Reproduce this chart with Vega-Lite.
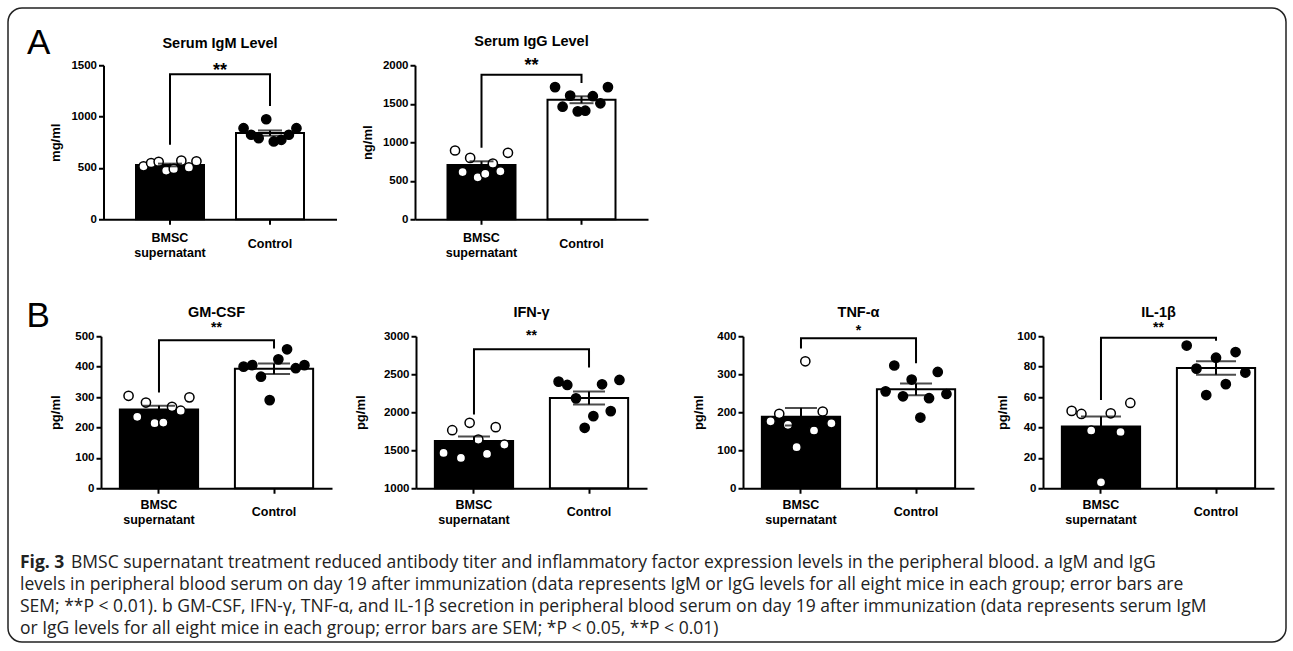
{
  "$schema": "https://vega.github.io/schema/vega-lite/v6.json",
  "padding": {"left": 7, "top": 7, "right": 7, "bottom": 8},
  "background": "white",
  "columns": 1,
  "align": "none",
  "spacing": -617.75,
  "datasets": {
    "pts": [
      {"assay": "IgM", "group": "BMSC supernatant", "mouse": 1, "value": 516},
      {"assay": "IgM", "group": "BMSC supernatant", "mouse": 2, "value": 548},
      {"assay": "IgM", "group": "BMSC supernatant", "mouse": 3, "value": 560},
      {"assay": "IgM", "group": "BMSC supernatant", "mouse": 4, "value": 474},
      {"assay": "IgM", "group": "BMSC supernatant", "mouse": 5, "value": 490},
      {"assay": "IgM", "group": "BMSC supernatant", "mouse": 6, "value": 571},
      {"assay": "IgM", "group": "BMSC supernatant", "mouse": 7, "value": 505},
      {"assay": "IgM", "group": "BMSC supernatant", "mouse": 8, "value": 565},
      {"assay": "IgM", "group": "Control", "mouse": 1, "value": 887},
      {"assay": "IgM", "group": "Control", "mouse": 2, "value": 823},
      {"assay": "IgM", "group": "Control", "mouse": 3, "value": 790},
      {"assay": "IgM", "group": "Control", "mouse": 4, "value": 974},
      {"assay": "IgM", "group": "Control", "mouse": 5, "value": 758},
      {"assay": "IgM", "group": "Control", "mouse": 6, "value": 774},
      {"assay": "IgM", "group": "Control", "mouse": 7, "value": 823},
      {"assay": "IgM", "group": "Control", "mouse": 8, "value": 887},
      {"assay": "IgG", "group": "BMSC supernatant", "mouse": 1, "value": 893},
      {"assay": "IgG", "group": "BMSC supernatant", "mouse": 2, "value": 613},
      {"assay": "IgG", "group": "BMSC supernatant", "mouse": 3, "value": 797},
      {"assay": "IgG", "group": "BMSC supernatant", "mouse": 4, "value": 545},
      {"assay": "IgG", "group": "BMSC supernatant", "mouse": 5, "value": 590},
      {"assay": "IgG", "group": "BMSC supernatant", "mouse": 6, "value": 723},
      {"assay": "IgG", "group": "BMSC supernatant", "mouse": 7, "value": 622},
      {"assay": "IgG", "group": "BMSC supernatant", "mouse": 8, "value": 863},
      {"assay": "IgG", "group": "Control", "mouse": 1, "value": 1716},
      {"assay": "IgG", "group": "Control", "mouse": 2, "value": 1462},
      {"assay": "IgG", "group": "Control", "mouse": 3, "value": 1606},
      {"assay": "IgG", "group": "Control", "mouse": 4, "value": 1401},
      {"assay": "IgG", "group": "Control", "mouse": 5, "value": 1410},
      {"assay": "IgG", "group": "Control", "mouse": 6, "value": 1598},
      {"assay": "IgG", "group": "Control", "mouse": 7, "value": 1506},
      {"assay": "IgG", "group": "Control", "mouse": 8, "value": 1716},
      {"assay": "GM-CSF", "group": "BMSC supernatant", "mouse": 1, "value": 304},
      {"assay": "GM-CSF", "group": "BMSC supernatant", "mouse": 2, "value": 235},
      {"assay": "GM-CSF", "group": "BMSC supernatant", "mouse": 3, "value": 282},
      {"assay": "GM-CSF", "group": "BMSC supernatant", "mouse": 4, "value": 214},
      {"assay": "GM-CSF", "group": "BMSC supernatant", "mouse": 5, "value": 216},
      {"assay": "GM-CSF", "group": "BMSC supernatant", "mouse": 6, "value": 268},
      {"assay": "GM-CSF", "group": "BMSC supernatant", "mouse": 7, "value": 255},
      {"assay": "GM-CSF", "group": "BMSC supernatant", "mouse": 8, "value": 299},
      {"assay": "GM-CSF", "group": "Control", "mouse": 1, "value": 400},
      {"assay": "GM-CSF", "group": "Control", "mouse": 2, "value": 405},
      {"assay": "GM-CSF", "group": "Control", "mouse": 3, "value": 367},
      {"assay": "GM-CSF", "group": "Control", "mouse": 4, "value": 290},
      {"assay": "GM-CSF", "group": "Control", "mouse": 5, "value": 424},
      {"assay": "GM-CSF", "group": "Control", "mouse": 6, "value": 457},
      {"assay": "GM-CSF", "group": "Control", "mouse": 7, "value": 395},
      {"assay": "GM-CSF", "group": "Control", "mouse": 8, "value": 405},
      {"assay": "IFN-γ", "group": "BMSC supernatant", "mouse": 1, "value": 1465},
      {"assay": "IFN-γ", "group": "BMSC supernatant", "mouse": 2, "value": 1764},
      {"assay": "IFN-γ", "group": "BMSC supernatant", "mouse": 3, "value": 1399},
      {"assay": "IFN-γ", "group": "BMSC supernatant", "mouse": 4, "value": 1861},
      {"assay": "IFN-γ", "group": "BMSC supernatant", "mouse": 5, "value": 1641},
      {"assay": "IFN-γ", "group": "BMSC supernatant", "mouse": 6, "value": 1452},
      {"assay": "IFN-γ", "group": "BMSC supernatant", "mouse": 7, "value": 1804},
      {"assay": "IFN-γ", "group": "BMSC supernatant", "mouse": 8, "value": 1575},
      {"assay": "IFN-γ", "group": "Control", "mouse": 1, "value": 2403},
      {"assay": "IFN-γ", "group": "Control", "mouse": 2, "value": 2359},
      {"assay": "IFN-γ", "group": "Control", "mouse": 3, "value": 2183},
      {"assay": "IFN-γ", "group": "Control", "mouse": 4, "value": 1795},
      {"assay": "IFN-γ", "group": "Control", "mouse": 5, "value": 1949},
      {"assay": "IFN-γ", "group": "Control", "mouse": 6, "value": 2368},
      {"assay": "IFN-γ", "group": "Control", "mouse": 7, "value": 2015},
      {"assay": "IFN-γ", "group": "Control", "mouse": 8, "value": 2425},
      {"assay": "TNF-α", "group": "BMSC supernatant", "mouse": 1, "value": 176},
      {"assay": "TNF-α", "group": "BMSC supernatant", "mouse": 2, "value": 196},
      {"assay": "TNF-α", "group": "BMSC supernatant", "mouse": 3, "value": 167},
      {"assay": "TNF-α", "group": "BMSC supernatant", "mouse": 4, "value": 108},
      {"assay": "TNF-α", "group": "BMSC supernatant", "mouse": 5, "value": 334},
      {"assay": "TNF-α", "group": "BMSC supernatant", "mouse": 6, "value": 152},
      {"assay": "TNF-α", "group": "BMSC supernatant", "mouse": 7, "value": 202},
      {"assay": "TNF-α", "group": "BMSC supernatant", "mouse": 8, "value": 171},
      {"assay": "TNF-α", "group": "Control", "mouse": 1, "value": 255},
      {"assay": "TNF-α", "group": "Control", "mouse": 2, "value": 323},
      {"assay": "TNF-α", "group": "Control", "mouse": 3, "value": 242},
      {"assay": "TNF-α", "group": "Control", "mouse": 4, "value": 286},
      {"assay": "TNF-α", "group": "Control", "mouse": 5, "value": 186},
      {"assay": "TNF-α", "group": "Control", "mouse": 6, "value": 237},
      {"assay": "TNF-α", "group": "Control", "mouse": 7, "value": 306},
      {"assay": "TNF-α", "group": "Control", "mouse": 8, "value": 248},
      {"assay": "IL-1β", "group": "BMSC supernatant", "mouse": 1, "value": 50.9},
      {"assay": "IL-1β", "group": "BMSC supernatant", "mouse": 2, "value": 48.9},
      {"assay": "IL-1β", "group": "BMSC supernatant", "mouse": 3, "value": 38},
      {"assay": "IL-1β", "group": "BMSC supernatant", "mouse": 4, "value": 3.9},
      {"assay": "IL-1β", "group": "BMSC supernatant", "mouse": 5, "value": 49.3},
      {"assay": "IL-1β", "group": "BMSC supernatant", "mouse": 6, "value": 37},
      {"assay": "IL-1β", "group": "BMSC supernatant", "mouse": 7, "value": 56.1},
      {"assay": "IL-1β", "group": "Control", "mouse": 1, "value": 93.9},
      {"assay": "IL-1β", "group": "Control", "mouse": 2, "value": 78.7},
      {"assay": "IL-1β", "group": "Control", "mouse": 3, "value": 61.3},
      {"assay": "IL-1β", "group": "Control", "mouse": 4, "value": 85.9},
      {"assay": "IL-1β", "group": "Control", "mouse": 5, "value": 68.5},
      {"assay": "IL-1β", "group": "Control", "mouse": 6, "value": 89.6},
      {"assay": "IL-1β", "group": "Control", "mouse": 7, "value": 76.1}
    ],
    "brk": [
      {"assay": "IgM", "group": "BMSC supernatant", "k": 1, "value": 726},
      {"assay": "IgM", "group": "BMSC supernatant", "k": 2, "value": 1413},
      {"assay": "IgM", "group": "Control", "k": 3, "value": 1413},
      {"assay": "IgM", "group": "Control", "k": 4, "value": 1103},
      {"assay": "IgG", "group": "BMSC supernatant", "k": 1, "value": 928},
      {"assay": "IgG", "group": "BMSC supernatant", "k": 2, "value": 1878},
      {"assay": "IgG", "group": "Control", "k": 3, "value": 1878},
      {"assay": "IgG", "group": "Control", "k": 4, "value": 1768},
      {"assay": "GM-CSF", "group": "BMSC supernatant", "k": 1, "value": 315},
      {"assay": "GM-CSF", "group": "BMSC supernatant", "k": 2, "value": 487},
      {"assay": "GM-CSF", "group": "Control", "k": 3, "value": 487},
      {"assay": "GM-CSF", "group": "Control", "k": 4, "value": 460},
      {"assay": "IFN-γ", "group": "BMSC supernatant", "k": 1, "value": 1971},
      {"assay": "IFN-γ", "group": "BMSC supernatant", "k": 2, "value": 2829},
      {"assay": "IFN-γ", "group": "Control", "k": 3, "value": 2829},
      {"assay": "IFN-γ", "group": "Control", "k": 4, "value": 2588},
      {"assay": "TNF-α", "group": "BMSC supernatant", "k": 1, "value": 368},
      {"assay": "TNF-α", "group": "BMSC supernatant", "k": 2, "value": 395},
      {"assay": "TNF-α", "group": "Control", "k": 3, "value": 395},
      {"assay": "TNF-α", "group": "Control", "k": 4, "value": 329},
      {"assay": "IL-1β", "group": "BMSC supernatant", "k": 1, "value": 58},
      {"assay": "IL-1β", "group": "BMSC supernatant", "k": 2, "value": 99},
      {"assay": "IL-1β", "group": "Control", "k": 3, "value": 99},
      {"assay": "IL-1β", "group": "Control", "k": 4, "value": 97}
    ],
    "cap": [
      {"line": 1, "part": "lead", "text": "Fig. 3"},
      {"line": 1, "part": "body", "text": "BMSC supernatant treatment reduced antibody titer and inflammatory factor expression levels in the peripheral blood. a IgM and IgG"},
      {"line": 2, "part": "body", "text": "levels in peripheral blood serum on day 19 after immunization (data represents IgM or IgG levels for all eight mice in each group; error bars are"},
      {"line": 3, "part": "body", "text": "SEM; **P < 0.01). b GM-CSF, IFN-γ, TNF-α, and IL-1β secretion in peripheral blood serum on day 19 after immunization (data represents serum IgM"},
      {"line": 4, "part": "body", "text": "or IgG levels for all eight mice in each group; error bars are SEM; *P < 0.05, **P < 0.01)"}
    ]
  },
  "concat": [
    {
      "width": 1278, "height": 634,
      "data": {"values": []},
      "mark": "point",
      "view": {"stroke": "#222222", "strokeWidth": 1.5, "cornerRadius": 14, "fill": null}
    },
    {
      "spacing": 26,
      "vconcat": [
        {
          "spacing": 39,
          "vconcat": [
            {
              "spacing": 24.5,
              "title": {"text": "A", "anchor": "start", "frame": "bounds", "fontSize": 35, "fontWeight": "normal", "dx": 19, "offset": -26.5},
              "hconcat": [
                {"width": 16, "height": 1, "data": {"values": []}, "mark": "point"},
                {
                  "width": 233, "height": 154,
                  "title": {"text": "Serum IgM Level", "subtitle": "**", "subtitleFontSize": 18, "subtitlePadding": 10, "offset": -21.5},
                  "data": {"name": "pts"},
                  "transform": [{"filter": "datum.assay === 'IgM'"}],
                  "resolve": {"scale": {"xOffset": "independent"}},
                  "encoding": {"y": {"field": "value", "type": "quantitative", "title": "mg/ml", "scale": {"domain": [0, 1500], "nice": false}, "axis": {"values": [0, 500, 1000, 1500], "format": "d", "titlePadding": 7.5}}},
                  "layer": [
                    {"mark": {"type": "bar", "stroke": "black", "strokeWidth": 2},
                     "encoding": {
                       "x": {"field": "group", "type": "nominal", "scale": {"type": "band", "paddingInner": 0.32, "paddingOuter": 0.325}, "axis": {"labelPadding": {"condition": {"test": "datum.value === 'Control'", "value": 19}, "value": 13}}, "title": null},
                       "y": {"aggregate": "mean", "field": "value", "type": "quantitative", "title": "mg/ml"},
                       "fill": {"condition": {"test": "datum.group === 'Control'", "value": "white"}, "value": "black"}}},
                    {"mark": {"type": "point", "shape": "circle", "filled": true, "opacity": 1, "size": 85, "stroke": "black", "strokeWidth": 1.5},
                     "encoding": {
                       "x": {"field": "group", "type": "nominal"},
                       "xOffset": {"field": "mouse", "type": "ordinal", "scale": {"type": "point", "padding": 2.17}},
                       "fill": {"condition": {"test": "datum.group === 'Control'", "value": "black"}, "value": "white"}}},
                    {"mark": {"type": "errorbar", "extent": "stderr", "color": "black", "thickness": 2, "ticks": {"size": 24}},
                     "encoding": {"x": {"field": "group", "type": "nominal"}}},
                    {"data": {"name": "brk"}, "transform": [{"filter": "datum.assay === 'IgM'"}],
                     "mark": {"type": "line", "color": "black", "strokeWidth": 2, "strokeJoin": "miter"},
                     "encoding": {"x": {"field": "group", "type": "nominal"}, "order": {"field": "k", "type": "quantitative"}}}
                  ]
                },
                {
                  "width": 233, "height": 154,
                  "title": {"text": "Serum IgG Level", "subtitle": "**", "subtitleFontSize": 18, "subtitlePadding": 7, "offset": -16.5},
                  "data": {"name": "pts"},
                  "transform": [{"filter": "datum.assay === 'IgG'"}],
                  "resolve": {"scale": {"xOffset": "independent"}},
                  "encoding": {"y": {"field": "value", "type": "quantitative", "title": "ng/ml", "scale": {"domain": [0, 2000], "nice": false}, "axis": {"values": [0, 500, 1000, 1500, 2000], "format": "d", "titlePadding": 6.5}}},
                  "layer": [
                    {"mark": {"type": "bar", "stroke": "black", "strokeWidth": 2},
                     "encoding": {
                       "x": {"field": "group", "type": "nominal", "scale": {"type": "band", "paddingInner": 0.32, "paddingOuter": 0.325}, "axis": {"labelPadding": {"condition": {"test": "datum.value === 'Control'", "value": 19}, "value": 13}}, "title": null},
                       "y": {"aggregate": "mean", "field": "value", "type": "quantitative", "title": "ng/ml"},
                       "fill": {"condition": {"test": "datum.group === 'Control'", "value": "white"}, "value": "black"}}},
                    {"mark": {"type": "point", "shape": "circle", "filled": true, "opacity": 1, "size": 85, "stroke": "black", "strokeWidth": 1.5},
                     "encoding": {
                       "x": {"field": "group", "type": "nominal"},
                       "xOffset": {"field": "mouse", "type": "ordinal", "scale": {"type": "point", "padding": 2.17}},
                       "fill": {"condition": {"test": "datum.group === 'Control'", "value": "black"}, "value": "white"}}},
                    {"mark": {"type": "errorbar", "extent": "stderr", "color": "black", "thickness": 2, "ticks": {"size": 24}},
                     "encoding": {"x": {"field": "group", "type": "nominal"}}},
                    {"data": {"name": "brk"}, "transform": [{"filter": "datum.assay === 'IgG'"}],
                     "mark": {"type": "line", "color": "black", "strokeWidth": 2, "strokeJoin": "miter"},
                     "encoding": {"x": {"field": "group", "type": "nominal"}, "order": {"field": "k", "type": "quantitative"}}}
                  ]
                }
              ]
            },
            {
              "spacing": 22,
              "title": {"text": "B", "anchor": "start", "frame": "bounds", "fontSize": 35, "fontWeight": "normal", "dx": 18.5, "offset": -29},
              "hconcat": [
                {"width": 19, "height": 1, "data": {"values": []}, "mark": "point"},
                {
                  "width": 231, "height": 152,
                  "title": {"text": "GM-CSF", "subtitle": "**", "subtitlePadding": 0.6, "offset": -5.6},
                  "data": {"name": "pts"},
                  "transform": [{"filter": "datum.assay === 'GM-CSF'"}],
                  "resolve": {"scale": {"xOffset": "independent"}},
                  "encoding": {"y": {"field": "value", "type": "quantitative", "title": "pg/ml", "scale": {"domain": [0, 500], "nice": false}, "axis": {"values": [0, 100, 200, 300, 400, 500], "format": "d", "titlePadding": 5}}},
                  "layer": [
                    {"mark": {"type": "bar", "stroke": "black", "strokeWidth": 2},
                     "encoding": {
                       "x": {"field": "group", "type": "nominal", "scale": {"type": "band", "paddingInner": 0.32, "paddingOuter": 0.164}, "axis": {"labelPadding": {"condition": {"test": "datum.value === 'Control'", "value": 18}, "value": 11}}, "title": null},
                       "y": {"aggregate": "mean", "field": "value", "type": "quantitative", "title": "pg/ml"},
                       "fill": {"condition": {"test": "datum.group === 'Control'", "value": "white"}, "value": "black"}}},
                    {"mark": {"type": "point", "shape": "circle", "filled": true, "opacity": 1, "size": 85, "stroke": "black", "strokeWidth": 1.5},
                     "encoding": {
                       "x": {"field": "group", "type": "nominal"},
                       "xOffset": {"field": "mouse", "type": "ordinal", "scale": {"type": "point", "padding": 2.7}},
                       "fill": {"condition": {"test": "datum.group === 'Control'", "value": "black"}, "value": "white"}}},
                    {"mark": {"type": "errorbar", "extent": "stderr", "color": "black", "thickness": 2, "ticks": {"size": 32}},
                     "encoding": {"x": {"field": "group", "type": "nominal"}}},
                    {"data": {"name": "brk"}, "transform": [{"filter": "datum.assay === 'GM-CSF'"}],
                     "mark": {"type": "line", "color": "black", "strokeWidth": 2, "strokeJoin": "miter"},
                     "encoding": {"x": {"field": "group", "type": "nominal"}, "order": {"field": "k", "type": "quantitative"}}}
                  ]
                },
                {
                  "width": 231, "height": 152,
                  "title": {"text": "IFN-γ", "subtitle": "**", "subtitlePadding": 8.6, "offset": -13.6},
                  "data": {"name": "pts"},
                  "transform": [{"filter": "datum.assay === 'IFN-γ'"}],
                  "resolve": {"scale": {"xOffset": "independent"}},
                  "encoding": {"y": {"field": "value", "type": "quantitative", "title": "pg/ml", "scale": {"domain": [1000, 3000], "nice": false, "zero": false}, "axis": {"values": [1000, 1500, 2000, 2500, 3000], "format": "d", "titlePadding": 15}}},
                  "layer": [
                    {"mark": {"type": "bar", "stroke": "black", "strokeWidth": 2},
                     "encoding": {
                       "x": {"field": "group", "type": "nominal", "scale": {"type": "band", "paddingInner": 0.32, "paddingOuter": 0.164}, "axis": {"labelPadding": {"condition": {"test": "datum.value === 'Control'", "value": 18}, "value": 11}}, "title": null},
                       "y": {"aggregate": "mean", "field": "value", "type": "quantitative", "title": "pg/ml"},
                       "fill": {"condition": {"test": "datum.group === 'Control'", "value": "white"}, "value": "black"}}},
                    {"mark": {"type": "point", "shape": "circle", "filled": true, "opacity": 1, "size": 85, "stroke": "black", "strokeWidth": 1.5},
                     "encoding": {
                       "x": {"field": "group", "type": "nominal"},
                       "xOffset": {"field": "mouse", "type": "ordinal", "scale": {"type": "point", "padding": 2.7}},
                       "fill": {"condition": {"test": "datum.group === 'Control'", "value": "black"}, "value": "white"}}},
                    {"mark": {"type": "errorbar", "extent": "stderr", "color": "black", "thickness": 2, "ticks": {"size": 32}},
                     "encoding": {"x": {"field": "group", "type": "nominal"}}},
                    {"data": {"name": "brk"}, "transform": [{"filter": "datum.assay === 'IFN-γ'"}],
                     "mark": {"type": "line", "color": "black", "strokeWidth": 2, "strokeJoin": "miter"},
                     "encoding": {"x": {"field": "group", "type": "nominal"}, "order": {"field": "k", "type": "quantitative"}}}
                  ]
                },
                {"width": 1, "height": 1, "data": {"values": []}, "mark": "point"},
                {
                  "width": 231, "height": 152,
                  "title": {"text": "TNF-α", "subtitle": "*", "subtitlePadding": 3.6, "offset": -8.6},
                  "data": {"name": "pts"},
                  "transform": [{"filter": "datum.assay === 'TNF-α'"}],
                  "resolve": {"scale": {"xOffset": "independent"}},
                  "encoding": {"y": {"field": "value", "type": "quantitative", "title": "pg/ml", "scale": {"domain": [0, 400], "nice": false}, "axis": {"values": [0, 100, 200, 300, 400], "format": "d", "titlePadding": 4}}},
                  "layer": [
                    {"mark": {"type": "bar", "stroke": "black", "strokeWidth": 2},
                     "encoding": {
                       "x": {"field": "group", "type": "nominal", "scale": {"type": "band", "paddingInner": 0.32, "paddingOuter": 0.164}, "axis": {"labelPadding": {"condition": {"test": "datum.value === 'Control'", "value": 18}, "value": 11}}, "title": null},
                       "y": {"aggregate": "mean", "field": "value", "type": "quantitative", "title": "pg/ml"},
                       "fill": {"condition": {"test": "datum.group === 'Control'", "value": "white"}, "value": "black"}}},
                    {"mark": {"type": "point", "shape": "circle", "filled": true, "opacity": 1, "size": 85, "stroke": "black", "strokeWidth": 1.5},
                     "encoding": {
                       "x": {"field": "group", "type": "nominal"},
                       "xOffset": {"field": "mouse", "type": "ordinal", "scale": {"type": "point", "padding": 2.7}},
                       "fill": {"condition": {"test": "datum.group === 'Control'", "value": "black"}, "value": "white"}}},
                    {"mark": {"type": "errorbar", "extent": "stderr", "color": "black", "thickness": 2, "ticks": {"size": 32}},
                     "encoding": {"x": {"field": "group", "type": "nominal"}}},
                    {"data": {"name": "brk"}, "transform": [{"filter": "datum.assay === 'TNF-α'"}],
                     "mark": {"type": "line", "color": "black", "strokeWidth": 2, "strokeJoin": "miter"},
                     "encoding": {"x": {"field": "group", "type": "nominal"}, "order": {"field": "k", "type": "quantitative"}}}
                  ]
                },
                {
                  "width": 231, "height": 152,
                  "title": {"text": "IL-1β", "subtitle": "**", "subtitlePadding": 0.6, "offset": -5.6},
                  "data": {"name": "pts"},
                  "transform": [{"filter": "datum.assay === 'IL-1β'"}],
                  "resolve": {"scale": {"xOffset": "independent"}},
                  "encoding": {"y": {"field": "value", "type": "quantitative", "title": "pg/ml", "scale": {"domain": [0, 100], "nice": false}, "axis": {"values": [0, 20, 40, 60, 80, 100], "format": "d", "titlePadding": 0}}},
                  "layer": [
                    {"mark": {"type": "bar", "stroke": "black", "strokeWidth": 2},
                     "encoding": {
                       "x": {"field": "group", "type": "nominal", "scale": {"type": "band", "paddingInner": 0.32, "paddingOuter": 0.164}, "axis": {"labelPadding": {"condition": {"test": "datum.value === 'Control'", "value": 18}, "value": 11}}, "title": null},
                       "y": {"aggregate": "mean", "field": "value", "type": "quantitative", "title": "pg/ml"},
                       "fill": {"condition": {"test": "datum.group === 'Control'", "value": "white"}, "value": "black"}}},
                    {"mark": {"type": "point", "shape": "circle", "filled": true, "opacity": 1, "size": 85, "stroke": "black", "strokeWidth": 1.5},
                     "encoding": {
                       "x": {"field": "group", "type": "nominal"},
                       "xOffset": {"field": "mouse", "type": "ordinal", "scale": {"type": "point", "padding": 2.57}},
                       "fill": {"condition": {"test": "datum.group === 'Control'", "value": "black"}, "value": "white"}}},
                    {"mark": {"type": "errorbar", "extent": "stderr", "color": "black", "thickness": 2, "ticks": {"size": 40}},
                     "encoding": {"x": {"field": "group", "type": "nominal"}}},
                    {"data": {"name": "brk"}, "transform": [{"filter": "datum.assay === 'IL-1β'"}],
                     "mark": {"type": "line", "color": "black", "strokeWidth": 2, "strokeJoin": "miter"},
                     "encoding": {"x": {"field": "group", "type": "nominal"}, "order": {"field": "k", "type": "quantitative"}}}
                  ]
                }
              ]
            }
          ]
        },
        {
          "spacing": 0,
          "hconcat": [
            {"width": 12, "height": 1, "data": {"values": []}, "mark": "point"},
            {
              "width": 1255, "height": 88,
              "data": {"name": "cap"},
              "encoding": {
                "y": {"field": "line", "type": "ordinal", "scale": {"type": "point", "padding": 0.5}, "axis": null},
                "x": {"datum": 0, "type": "quantitative", "scale": {"domain": [0, 1]}, "axis": null}
              },
              "layer": [
                {"transform": [{"filter": "datum.part === 'body' && datum.line > 1"}],
                 "mark": {"type": "text", "align": "left", "baseline": "middle", "font": "Open Sans", "fontSize": 17.5, "color": "#222222"},
                 "encoding": {"text": {"field": "text"}}},
                {"transform": [{"filter": "datum.part === 'body' && datum.line === 1"}],
                 "mark": {"type": "text", "align": "left", "baseline": "middle", "font": "Open Sans", "fontSize": 17.5, "color": "#222222", "dx": 51},
                 "encoding": {"text": {"field": "text"}}},
                {"transform": [{"filter": "datum.part === 'lead'"}],
                 "mark": {"type": "text", "align": "left", "baseline": "middle", "font": "Open Sans", "fontSize": 17.5, "fontWeight": "bold", "color": "#222222"},
                 "encoding": {"text": {"field": "text"}}}
              ]
            }
          ]
        }
      ]
    }
  ],
  "config": {
    "font": "Liberation Sans",
    "view": {"stroke": null},
    "axis": {
      "domainColor": "black", "domainWidth": 2, "tickColor": "black", "tickWidth": 2, "tickSize": 5,
      "labelColor": "black", "labelFont": "Liberation Sans", "labelFontWeight": "bold", "labelFontSize": 11.5, "labelOverlap": false,
      "grid": false, "titleColor": "black", "titleFont": "Liberation Sans", "titleFontWeight": "bold", "titleFontSize": 13
    },
    "axisY": {"minExtent": 34, "maxExtent": 34},
    "axisX": {"labelAngle": 0, "labelBaseline": "middle", "labelFontSize": 12.5, "labelLineHeight": 15,
      "labelExpr": "datum.value == 'BMSC supernatant' ? ['BMSC', 'supernatant'] : datum.value"},
    "title": {"font": "Liberation Sans", "fontSize": 14.5, "fontWeight": "bold", "color": "black", "frame": "group", "offset": 10,
      "subtitleFont": "Liberation Sans", "subtitleFontWeight": "bold", "subtitleColor": "black", "subtitleFontSize": 14},
    "text": {"font": "Liberation Sans", "color": "black"}
  }
}
